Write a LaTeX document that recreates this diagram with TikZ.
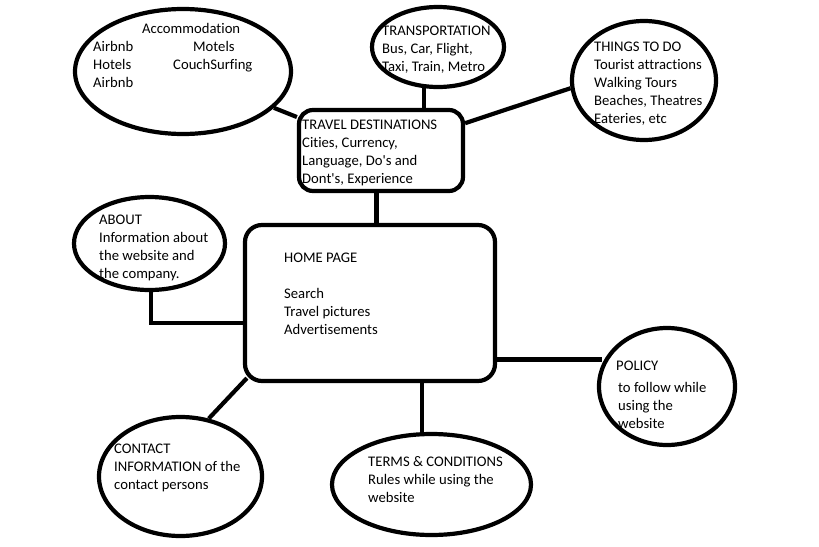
\documentclass[tikz,border=0pt]{standalone}
\usepackage{fontspec}
\setmainfont{Carlito}[Ligatures={NoCommon,NoRequired,NoContextual}]
\usetikzlibrary{shapes.geometric,calc}
\begin{document}
\begin{tikzpicture}[x=1pt,y=-1pt,
  bubble/.style={draw=black,line width=4.2pt,ellipse,inner sep=0pt},
  boxnode/.style={draw=black,line width=4.2pt,rectangle,inner sep=0pt},
  link/.style={draw=black,line width=4.2pt},
  txt/.style={anchor=north west,inner sep=0pt,align=left,text=black,
    font=\fontsize{14.67pt}{18pt}\selectfont}]
\fill[white] (0,0) rectangle (819,546);
\useasboundingbox (0,0) rectangle (819,546);
% shapes
\node[bubble,minimum width=216pt,minimum height=125pt] (acc) at (183,71.5) {};
\node[bubble,minimum width=132pt,minimum height=80pt] (trans) at (438,47) {};
\node[bubble,minimum width=144pt,minimum height=119pt] (things) at (644,80.5) {};
\node[bubble,minimum width=151pt,minimum height=93pt] (about) at (149.5,243.5) {};
\node[bubble,minimum width=163pt,minimum height=119pt] (contact) at (180.5,476.5) {};
\node[bubble,minimum width=199pt,minimum height=101pt] (terms) at (431.5,484.5) {};
\node[bubble,minimum width=136pt,minimum height=117pt] (policy) at (667,386.5) {};
\node[boxnode,rounded corners=14pt,minimum width=164pt,minimum height=81pt] (td) at (381,150.5) {};
\node[boxnode,rounded corners=17pt,minimum width=250pt,minimum height=156pt] (home) at (370,303) {};
% connectors
\draw[link] (acc) -- (td);
\draw[link] (trans.-109) -- (trans.-109 |- td.north);
\draw[link] (td.18) -- (things.186);
\draw[link] (td.-96.7) -- (td.-96.7 |- home.north);
\draw[link] (about.-88) |- (home.189);
\draw[link,shorten >=-5pt] (home.-24.9) -- (home.-24.9 -| policy.west);
\draw[link] (contact.64) -- ($(home.south west)+(4,-5)$);
\draw[link] (home.-57) -- (home.-57 |- terms.north);
% texts
\node[txt] (accA) at (142,21) {\strut Accommodation};
\node[txt] (accL) at (93,39) {\strut Airbnb\\Hotels\\Airbnb};
\node[txt] (accM) at (193,39) {\strut Motels};
\node[txt] (accC) at (173,57) {\strut CouchSurfing};
\node[txt] (transT) at (382,23) {\strut TRANSPORTATION\\Bus, Car, Flight,\\Taxi, Train, Metro};
\node[txt] (tdT) at (302,117) {\strut TRAVEL DESTINATIONS\\Cities, Currency,\\Language, Do\textquotesingle s and\\Dont\textquotesingle s, Experience};
\node[txt] (thingsT) at (594,39) {\strut THINGS TO DO\\Tourist attractions\\Walking Tours\\Beaches, Theatres\\Eateries, etc};
\node[txt] (aboutT) at (99,212) {\strut ABOUT\\Information about\\the website and\\the company.};
\node[txt] (homeT) at (284,250) {\strut HOME PAGE\\[18pt]Search\\Travel pictures\\Advertisements};
\node[txt] (contactT) at (114,441) {\strut CONTACT\\INFORMATION of the\\contact persons};
\node[txt] (termsT) at (368,454) {\strut TERMS \& CONDITIONS\\Rules while using the\\website};
\node[txt] (policyA) at (616,358) {\strut POLICY};
\node[txt] (policyB) at (618,380) {\strut to follow while\\using the\\website};
\end{tikzpicture}
\end{document}
